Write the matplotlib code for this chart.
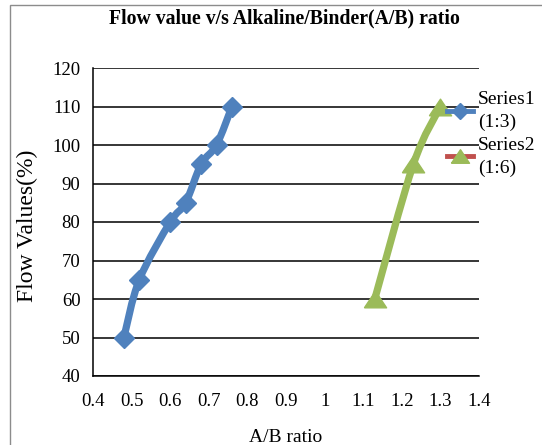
import numpy as np
import matplotlib.pyplot as plt
from matplotlib.path import Path
from matplotlib.patches import PathPatch, Rectangle
from matplotlib.lines import Line2D

plt.rcParams['font.family'] = ['Liberation Serif', 'DejaVu Serif']

# A/B ratio vs flow value for the two mixes
ratio_13 = [0.48, 0.52, 0.60, 0.64, 0.68, 0.72, 0.76]
flow_13 = [50, 65, 80, 85, 95, 100, 110]
ratio_16 = [1.13, 1.23, 1.30]
flow_16 = [60, 95, 110]

labels = ["Series1\n(1:3)", "Series2\n(1:6)"]
xticks = [0.4, 0.5, 0.6, 0.7, 0.8, 0.9, 1, 1.1, 1.2, 1.3, 1.4]
xtick_labels = ["0.4", "0.5", "0.6", "0.7", "0.8", "0.9", "1", "1.1", "1.2", "1.3", "1.4"]
yticks = [40, 50, 60, 70, 80, 90, 100, 110, 120]

BLUE = "#4F81BD"
GREEN = "#9BBB59"
RED = "#C0504D"

# wide, flat triangle like the spreadsheet marker
tri = [(-1, -0.75), (1, -0.75), (0, 0.75), (-1, -0.75)]


def smooth_path(xs, ys):
    """Cubic Bezier through the points (spreadsheet-style smoothed line)."""
    pts = np.column_stack([xs, ys]).astype(float)
    n = len(pts)
    verts = [pts[0]]
    codes = [Path.MOVETO]
    for i in range(n - 1):
        p0 = pts[i - 1] if i > 0 else pts[i]
        p1 = pts[i]
        p2 = pts[i + 1]
        p3 = pts[i + 2] if i + 2 < n else pts[i + 1]
        c1 = p1 + (p2 - p0) / 6.0
        c2 = p2 - (p3 - p1) / 6.0
        verts += [c1, c2, p2]
        codes += [Path.CURVE4] * 3
    return Path(verts, codes)


fig = plt.figure(figsize=(5.42, 4.45), dpi=100)
ax = fig.add_axes([93 / 542, 1 - 376 / 445, 386 / 542, 308 / 445])

ax.set_xlim(0.4, 1.4)
ax.set_ylim(40, 120)
ax.set_xticks(xticks)
ax.set_xticklabels(xtick_labels)
ax.set_yticks(yticks)
ax.tick_params(axis='both', length=0, labelsize=13.5)
ax.tick_params(axis='x', pad=12)
ax.tick_params(axis='y', pad=9)

ax.grid(axis='y', color='black', linewidth=1.1)
ax.set_axisbelow(True)
for side in ['top', 'right']:
    ax.spines[side].set_visible(False)
for side in ['left', 'bottom']:
    ax.spines[side].set_linewidth(1.1)

# smoothed lines
ax.add_patch(PathPatch(smooth_path(ratio_13, flow_13), facecolor='none',
                       edgecolor=BLUE, linewidth=5.2, capstyle='round', zorder=3))
ax.add_patch(PathPatch(smooth_path(ratio_16, flow_16), facecolor='none',
                       edgecolor=GREEN, linewidth=5.2, capstyle='round', zorder=3))

ax.plot(ratio_13, flow_13, linestyle='none', marker='D', markersize=10,
        color=BLUE, zorder=4, clip_on=False)
ax.plot(ratio_16, flow_16, linestyle='none', marker=tri, markersize=16,
        color=GREEN, zorder=4, clip_on=False)

handles = [
    Line2D([], [], color=BLUE, linewidth=3.5, marker='D', markersize=8),
    Line2D([], [], color=RED, linewidth=3.5, marker=tri, markersize=13,
           markerfacecolor=GREEN, markeredgecolor=GREEN),
]
leg = fig.legend(handles, labels, loc='upper left',
                 bbox_to_anchor=(447 / 542, 1 - 91 / 445), frameon=False,
                 fontsize=14, handlelength=1.35, handletextpad=0.25,
                 labelspacing=0.3, borderpad=0, borderaxespad=0)
for t in leg.get_texts():
    t.set_linespacing(1.42)

fig.text(284 / 542, 1 - 18 / 445, "Flow value v/s Alkaline/Binder(A/B) ratio",
         ha='center', va='center', fontsize=14.2, fontweight='bold')
fig.text(27 / 542, 1 - 226 / 445, "Flow Values(%)", rotation=90,
         ha='center', va='center', fontsize=17)
fig.text(286 / 542, 1 - 429 / 445, "A/B ratio", ha='center', va='top',
         fontsize=14)

# chart area border
fig.patches.append(Rectangle((10 / 542, -0.1), 1.0, 1.1 - 5 / 445,
                             transform=fig.transFigure, fill=False,
                             edgecolor='#8c8c8c', linewidth=1.0))

fig.savefig("out.png", dpi=100)
